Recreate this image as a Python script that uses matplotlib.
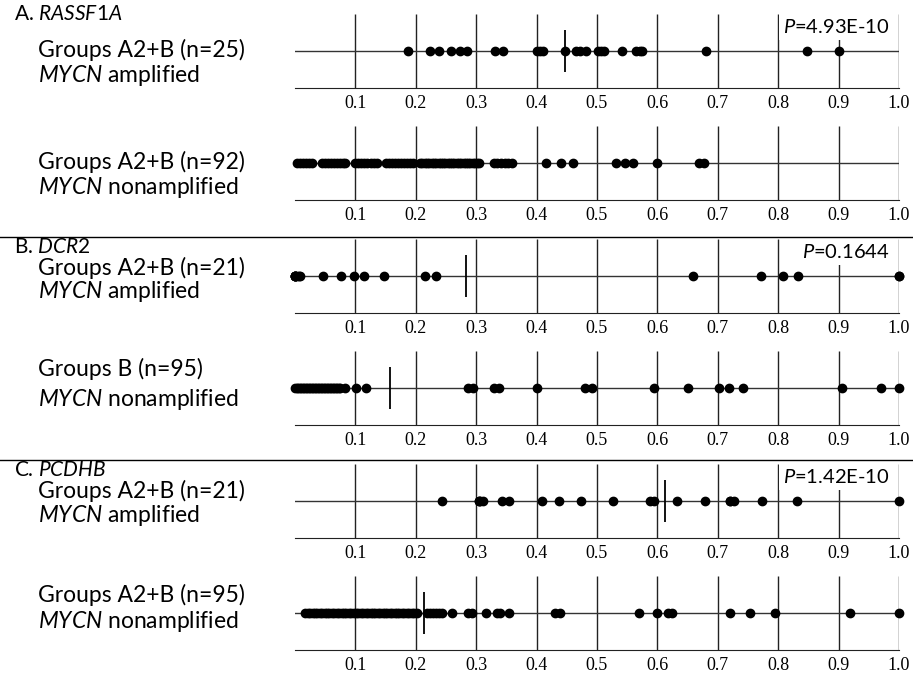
import matplotlib.pyplot as plt
from matplotlib.lines import Line2D

plt.rcParams['font.family'] = 'Lato'
plt.rcParams['mathtext.fontset'] = 'custom'
plt.rcParams['mathtext.it'] = 'Lato:italic'
plt.rcParams['mathtext.rm'] = 'Lato'

# methylation values
rassf1a_amp = [0.187, 0.223, 0.239, 0.258, 0.274, 0.285, 0.331, 0.344, 0.401, 0.406,
               0.411, 0.447, 0.466, 0.472, 0.481, 0.501, 0.506, 0.512, 0.542, 0.564,
               0.571, 0.575, 0.680, 0.847, 0.901]
rassf1a_non = [0.004, 0.009, 0.014, 0.019, 0.024, 0.028,
               0.044, 0.049, 0.054, 0.059, 0.064, 0.069, 0.074, 0.079, 0.083,
               0.100, 0.105, 0.110, 0.115, 0.120, 0.125, 0.130, 0.135,
               0.151, 0.156, 0.161, 0.166, 0.171, 0.176, 0.181, 0.186, 0.191, 0.195,
               0.207, 0.211, 0.215, 0.219, 0.222, 0.226, 0.230, 0.234, 0.238, 0.241,
               0.245, 0.249, 0.253, 0.256, 0.260, 0.264, 0.268, 0.271, 0.275, 0.279,
               0.283, 0.287, 0.290, 0.294, 0.298, 0.301, 0.305,
               0.329, 0.335, 0.341, 0.347, 0.353, 0.359,
               0.416, 0.441, 0.460, 0.532, 0.546, 0.559, 0.600, 0.669, 0.677]
dcr2_amp = [0.0, 0.0, 0.0, 0.0, 0.0, 0.003, 0.006, 0.009, 0.046, 0.076, 0.098, 0.114,
            0.148, 0.216, 0.234, 0.659, 0.771, 0.808, 0.832, 1.0, 1.0]
dcr2_non = [0.0, 0.003, 0.005, 0.008, 0.010, 0.013, 0.015, 0.018, 0.020, 0.023, 0.025,
            0.028, 0.030, 0.033, 0.035, 0.038, 0.040, 0.043, 0.045, 0.048, 0.050,
            0.053, 0.055, 0.058, 0.060, 0.063, 0.065, 0.068, 0.070, 0.073, 0.075,
            0.083, 0.101, 0.118, 0.286, 0.295, 0.329, 0.337, 0.400, 0.480, 0.492,
            0.595, 0.650, 0.702, 0.719, 0.742, 0.906, 0.971, 1.0]
pcdhb_amp = [0.244, 0.304, 0.304, 0.307, 0.311, 0.343, 0.354, 0.409, 0.437, 0.473,
             0.526, 0.588, 0.594, 0.633, 0.678, 0.721, 0.721, 0.726, 0.774, 0.831, 1.0]
pcdhb_non = [0.017, 0.021, 0.025, 0.029, 0.033, 0.037, 0.041, 0.045, 0.049, 0.053,
             0.057, 0.061, 0.065, 0.069, 0.073, 0.077, 0.081, 0.085, 0.089, 0.093,
             0.097, 0.101, 0.105, 0.109, 0.113, 0.117, 0.121, 0.125, 0.129, 0.133,
             0.137, 0.141, 0.145, 0.149, 0.153, 0.157, 0.161, 0.165, 0.169, 0.173,
             0.177, 0.181, 0.185, 0.189, 0.193, 0.197, 0.202,
             0.219, 0.224, 0.229, 0.234, 0.239, 0.243, 0.260, 0.287, 0.293, 0.316,
             0.334, 0.340, 0.355, 0.431, 0.439, 0.570, 0.600, 0.618, 0.624, 0.721,
             0.754, 0.794, 0.919, 1.0]

medians = [0.447, None, 0.283, 0.157, 0.612, 0.213]
group_labels = ['Groups A2+B (n=25)', 'Groups A2+B (n=92)', 'Groups A2+B (n=21)',
                'Groups B (n=95)', 'Groups A2+B (n=21)', 'Groups A2+B (n=95)']
mycn_labels = ['$\\mathit{MYCN}$ amplified', '$\\mathit{MYCN}$ nonamplified'] * 3
section_labels = ['A. $\\mathit{RASSF1A}$', 'B. $\\mathit{DCR2}$', 'C. $\\mathit{PCDHB}$']
p_values = ['$\\mathit{P}$=4.93E-10', '$\\mathit{P}$=0.1644', '$\\mathit{P}$=1.42E-10']
ticks = [0.1, 0.2, 0.3, 0.4, 0.5, 0.6, 0.7, 0.8, 0.9, 1.0]
tick_labels = ['0.1', '0.2', '0.3', '0.4', '0.5', '0.6', '0.7', '0.8', '0.9', '1.0']

values = [rassf1a_amp, rassf1a_non, dcr2_amp, dcr2_non, pcdhb_amp, pcdhb_non]

W, H = 913, 676
fig = plt.figure(figsize=(W / 100, H / 100), dpi=100)

# layout in pixels
axis_y = [88, 200, 313, 425, 538, 650]
group_y = [50, 162, 268, 369, 491, 595]
mycn_y = [75, 187, 292, 400, 515, 621]
section_y = [14, 247, 470]
sep_y = [237, 460]

for i in range(6):
    ax = fig.add_axes([295 / W, 1 - axis_y[i] / H, 604 / W, 74 / H])
    ax.patch.set_visible(False)
    ax.set_xlim(0, 1)
    ax.set_ylim(0, 1)
    ax.vlines(ticks, 0, 1, color='#222222', lw=1)
    ax.axhline(0.5, color='#333333', lw=1)
    ax.plot(values[i], [0.5] * len(values[i]), 'o', color='black', ms=6, clip_on=False, zorder=3)
    if medians[i] is not None:
        ax.vlines(medians[i], 0.22, 0.78, color='black', lw=1.3, zorder=4)
    for s in ['top', 'left', 'right']:
        ax.spines[s].set_visible(False)
    ax.spines['bottom'].set_color('#222222')
    ax.set_xticks(ticks)
    ax.set_xticklabels(tick_labels, fontfamily='Liberation Serif', fontsize=13)
    ax.tick_params(axis='x', length=0, pad=5)
    ax.set_yticks([])
    if i % 2 == 0:
        ax.text(0.985, 0.83, p_values[i // 2], transform=ax.transAxes, ha='right', va='center',
                fontsize=14.5, bbox=dict(facecolor='white', edgecolor='none', pad=3), zorder=6)

    fig.text(38 / W, 1 - group_y[i] / H, group_labels[i], fontsize=16.5, va='center')
    fig.text(38 / W, 1 - mycn_y[i] / H, mycn_labels[i], fontsize=16.5, va='center')

for j in range(3):
    fig.text(14 / W, 1 - section_y[j] / H, section_labels[j], fontsize=15, va='center')

for y in sep_y:
    fig.add_artist(Line2D([0, 1], [1 - y / H, 1 - y / H], transform=fig.transFigure,
                          color='black', lw=1))

fig.savefig('out.png', dpi=100)
